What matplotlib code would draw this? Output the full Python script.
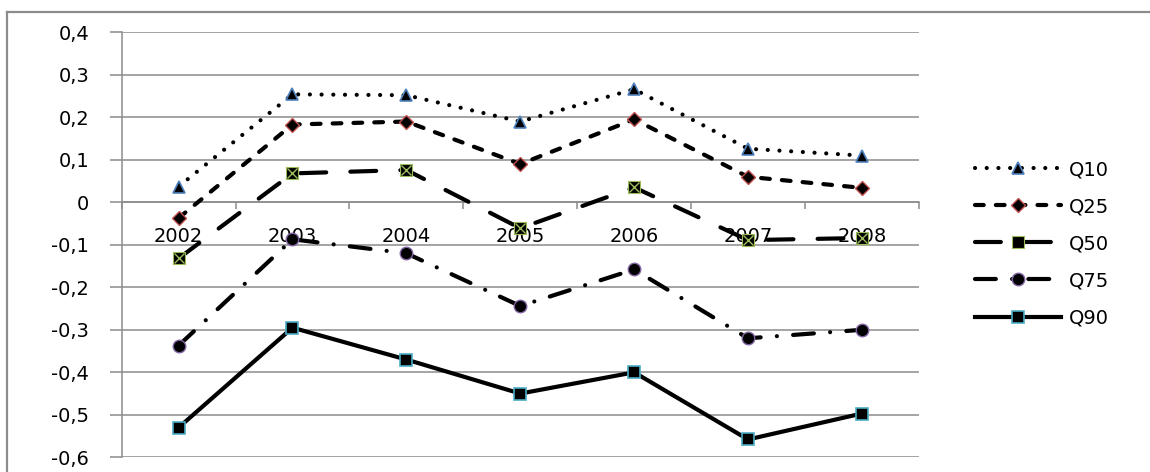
import matplotlib
matplotlib.use('Agg')
import matplotlib.pyplot as plt
from matplotlib.lines import Line2D
import numpy as np

# quantile series per year
years = ['2002', '2003', '2004', '2005', '2006', '2007', '2008']
q10 = [0.037, 0.254, 0.252, 0.190, 0.266, 0.126, 0.110]
q25 = [-0.037, 0.183, 0.190, 0.090, 0.195, 0.060, 0.034]
q50 = [-0.132, 0.068, 0.076, -0.061, 0.035, -0.089, -0.084]
q75 = [-0.337, -0.087, -0.120, -0.244, -0.158, -0.320, -0.300]
q90 = [-0.530, -0.295, -0.370, -0.450, -0.400, -0.558, -0.497]
yticks = [0.4, 0.3, 0.2, 0.1, 0.0, -0.1, -0.2, -0.3, -0.4, -0.5, -0.6]

plt.rcParams['font.family'] = ['DejaVu Sans']
fs = 14
grey = '#8c8c8c'

fig = plt.figure(figsize=(11.5, 4.72), dpi=100)
ax = fig.add_axes([0.1058, 0.0311, 0.799 - 0.1058, 0.9316 - 0.0311])

x = np.arange(len(years))
lw = 3.0

ax.plot(x, q10, color='black', lw=lw, linestyle=(0, (0.01, 2.8)), dash_capstyle='round',
        marker='^', ms=9, mfc='black', mec='#4F81BD', mew=1.2, label='Q10', zorder=5)
ax.plot(x, q25, color='black', lw=lw, linestyle=(0, (2.1, 2.9)), dash_capstyle='round',
        marker='D', ms=7, mfc='black', mec='#C0504D', mew=1.0, label='Q25', zorder=5)
ax.plot(x, q50, color='black', lw=lw, linestyle=(0, (6.2, 5.8)), dash_capstyle='round',
        marker='s', ms=8, mfc='black', mec='#9BBB59', mew=0.8, label='Q50', zorder=5)
ax.plot(x, q50, linestyle='none', marker='x', ms=7, mec='#9BBB59', mew=1.0, zorder=6)
ax.plot(x, q75, color='black', lw=lw, linestyle=(0, (5.0, 3.9, 0.01, 3.9)), dash_capstyle='round',
        marker='o', ms=9, mfc='black', mec='#8064A2', mew=1.0, label='Q75', zorder=5)
ax.plot(x, q90, color='black', lw=lw, linestyle='-',
        marker='s', ms=8, mfc='black', mec='#4BACC6', mew=1.2, label='Q90', zorder=5)

ax.set_xlim(-0.5, len(years) - 0.5)
ax.set_ylim(-0.6, 0.4)

# y axis: gridlines and outward ticks
ax.set_yticks(yticks)
ax.set_yticklabels([('%.1f' % v).replace('.', ',') if v != 0 else '0' for v in yticks])
ax.yaxis.grid(True, color=grey, lw=1.1)
ax.tick_params(axis='y', direction='out', length=8.5, width=1.1, color=grey,
               labelsize=fs, pad=15)

# x axis crossing at zero
ax.spines['bottom'].set_position(('data', 0))
ax.spines['bottom'].set_color(grey)
ax.spines['bottom'].set_linewidth(1.1)
ax.spines['left'].set_color(grey)
ax.spines['left'].set_linewidth(1.1)
ax.spines['top'].set_visible(False)
ax.spines['right'].set_visible(False)
ax.set_xticks(x)
ax.set_xticklabels(years)
ax.set_xticks(np.arange(-0.5, len(years)), minor=True)
ax.tick_params(axis='x', which='major', length=0, labelsize=fs, pad=18)
ax.tick_params(axis='x', which='minor', direction='out', length=5, width=1.1, color=grey)
ax.set_axisbelow(True)

fig.legend(loc='upper left', bbox_to_anchor=(975 / 1150, 1 - 160 / 472),
           frameon=False, fontsize=fs, handlelength=4.4, handletextpad=0.45,
           labelspacing=0.93, borderpad=0, borderaxespad=0, numpoints=1)

# outer chart frame
fig.add_artist(Line2D([7 / 1150, 7 / 1150], [0, 1 - 12 / 472], transform=fig.transFigure,
                      color=grey, lw=1.6))
fig.add_artist(Line2D([7 / 1150, 1], [1 - 12 / 472, 1 - 12 / 472], transform=fig.transFigure,
                      color=grey, lw=1.6))

fig.savefig('out.png', dpi=100)
